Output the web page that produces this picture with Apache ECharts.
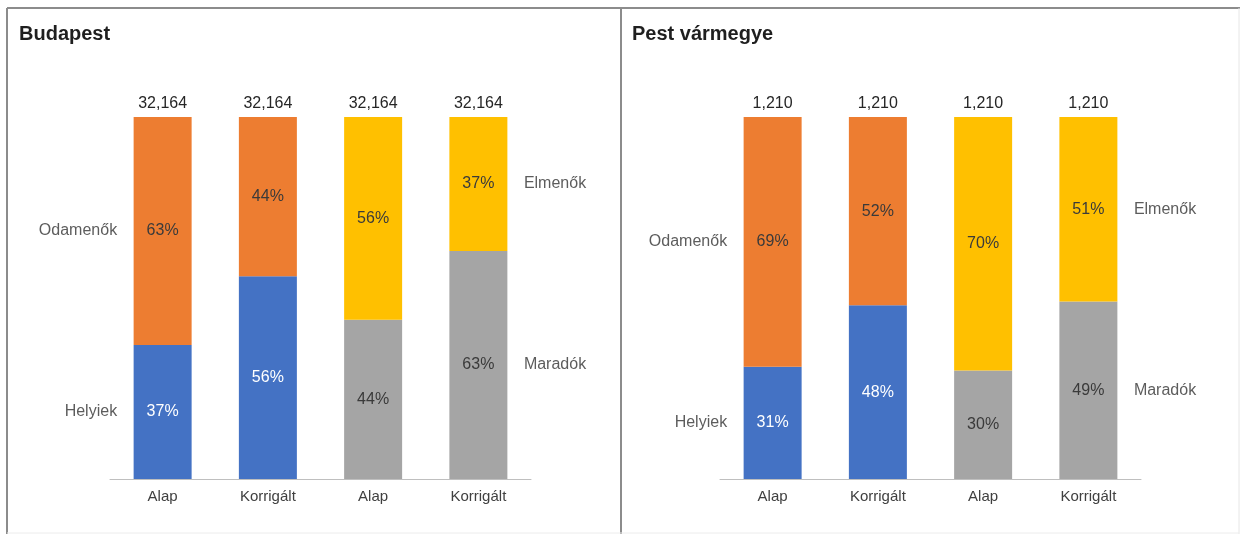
<!DOCTYPE html>
<html>
<head>
<meta charset="utf-8">
<script src="https://cdn.jsdelivr.net/npm/echarts@6/dist/echarts.min.js"></script>
<style>
html, body { margin: 0; padding: 0; background: #fff; }
#chart { width: 1248px; height: 540px; }
</style>
</head>
<body>
<div id="chart"></div>
<script>
var categories = ["Alap", "Korrigált", "Alap", "Korrigált"];
var panelTitles = ["Budapest", "Pest vármegye"];
var seriesNames = ["Helyiek", "Odamenők", "Maradók", "Elmenők"];

// Budapest
var bpHelyiek = [37, 56, "-", "-"];
var bpOdamenok = [63, 44, "-", "-"];
var bpMaradok = ["-", "-", 44, 63];
var bpElmenok = ["-", "-", 56, 37];
var bpTotals = [32164, 32164, 32164, 32164];

// Pest vármegye
var pestHelyiek = [31, 48, "-", "-"];
var pestOdamenok = [69, 52, "-", "-"];
var pestMaradok = ["-", "-", 30, 49];
var pestElmenok = ["-", "-", 70, 51];
var pestTotals = [1210, 1210, 1210, 1210];

var colors = ["#4472C4", "#ED7D31", "#A5A5A5", "#FFC000"];
var FONT = '"Liberation Sans", Arial, sans-serif';

function buildPanel(idx, helyiek, odamenok, maradok, elmenok, totals) {
    var stack = "s" + idx;
    var values = [helyiek, odamenok, maradok, elmenok];
    var out = [];
    values.forEach(function(vals, i) {
        out.push({
            name: seriesNames[i],
            type: "bar",
            xAxisIndex: idx,
            yAxisIndex: idx,
            stack: stack,
            barWidth: 58,
            data: vals,
            itemStyle: { color: colors[i] },
            label: {
                show: true,
                position: "inside",
                formatter: "{c}%",
                fontFamily: FONT,
                fontSize: 16,
                color: i === 0 ? "#ffffff" : "#3a3a3a"
            }
        });
    });
    // total on top of each column
    out.push({
        name: "total",
        type: "bar",
        xAxisIndex: idx,
        yAxisIndex: idx,
        stack: stack,
        barWidth: 58,
        data: totals.map(function() { return 0; }),
        itemStyle: { color: "transparent" },
        label: {
            show: true,
            position: "top",
            distance: 5,
            fontFamily: FONT,
            fontSize: 16,
            color: "#262626",
            formatter: function(p) {
                return totals[p.dataIndex].toLocaleString("en-US");
            }
        }
    });
    // series names beside the first and last column
    var sideLeft = [
        { value: [0, helyiek[0] / 2], name: seriesNames[0] },
        { value: [0, helyiek[0] + odamenok[0] / 2], name: seriesNames[1] }
    ];
    var sideRight = [
        { value: [3, maradok[3] / 2], name: seriesNames[2] },
        { value: [3, maradok[3] + elmenok[3] / 2], name: seriesNames[3] }
    ];
    [[sideLeft, "left"], [sideRight, "right"]].forEach(function(s) {
        out.push({
            type: "scatter",
            xAxisIndex: idx,
            yAxisIndex: idx,
            symbolSize: 1,
            itemStyle: { color: "transparent" },
            data: s[0],
            label: {
                show: true,
                position: s[1],
                distance: 45,
                fontFamily: FONT,
                fontSize: 16,
                color: "#333333",
                formatter: "{b}"
            }
        });
    });
    return out;
}

var chart = echarts.init(document.getElementById("chart"));

var lefts = [110, 720];
var option = {
    animation: false,
    title: panelTitles.map(function(t, i) {
        return {
            text: t,
            left: i === 0 ? 19 : 632,
            top: 24,
            padding: 0,
            textStyle: { fontFamily: FONT, fontSize: 20, fontWeight: "bold", color: "#1f1f1f" }
        };
    }),
    grid: lefts.map(function(l) {
        return { left: l, width: 421, top: 117, height: 362 };
    }),
    xAxis: lefts.map(function(l, i) {
        return {
            type: "category",
            gridIndex: i,
            data: categories,
            axisLine: { lineStyle: { color: "#bfbfbf", width: 1 } },
            axisTick: { show: false },
            axisLabel: { color: "#404040", fontFamily: FONT, fontSize: 15, margin: 10 }
        };
    }),
    yAxis: lefts.map(function(l, i) {
        return { type: "value", gridIndex: i, min: 0, max: 100, show: false };
    }),
    graphic: [
        { type: "line", shape: { x1: 7, y1: 8, x2: 1240, y2: 8 }, style: { stroke: "#8c8c8c", lineWidth: 2 } },
        { type: "line", shape: { x1: 7, y1: 8, x2: 7, y2: 534 }, style: { stroke: "#8c8c8c", lineWidth: 2 } },
        { type: "line", shape: { x1: 621, y1: 8, x2: 621, y2: 534 }, style: { stroke: "#8c8c8c", lineWidth: 2 } },
        { type: "line", shape: { x1: 1239, y1: 8, x2: 1239, y2: 534 }, style: { stroke: "#e6e6e6", lineWidth: 1 } },
        { type: "line", shape: { x1: 7, y1: 533, x2: 1239, y2: 533 }, style: { stroke: "#ececec", lineWidth: 1 } }
    ],
    series: [].concat(
        buildPanel(0, bpHelyiek, bpOdamenok, bpMaradok, bpElmenok, bpTotals),
        buildPanel(1, pestHelyiek, pestOdamenok, pestMaradok, pestElmenok, pestTotals)
    )
};

chart.setOption(option);
</script>
</body>
</html>
